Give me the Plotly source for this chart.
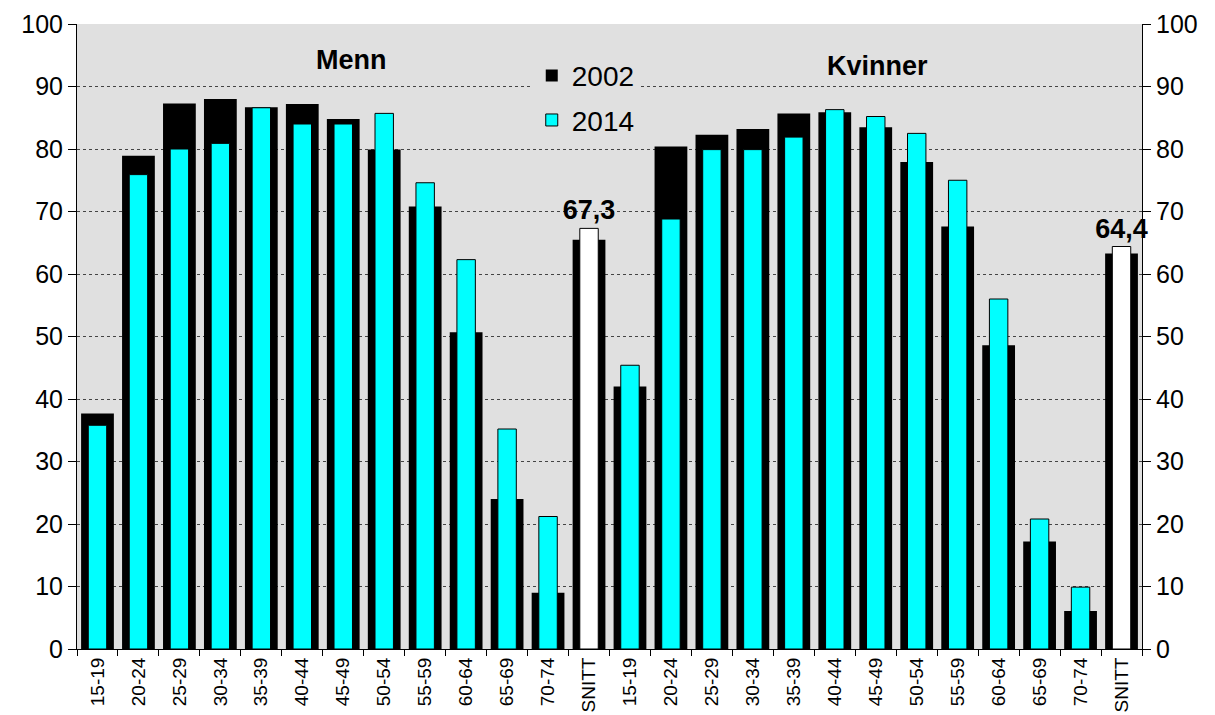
import plotly.graph_objects as go

# age groups, same for men and women
ages = ["15-19", "20-24", "25-29", "30-34", "35-39", "40-44", "45-49",
        "50-54", "55-59", "60-64", "65-69", "70-74", "SNITT"]

menn_2002 = [37.7, 78.9, 87.3, 88.0, 86.7, 87.2, 84.8, 79.9, 70.8, 50.7, 24.0, 9.0, 65.5]
menn_2014 = [35.8, 75.9, 80.0, 80.9, 86.6, 84.0, 84.0, 85.7, 74.6, 62.3, 35.2, 21.2, 67.3]
kvinner_2002 = [42.0, 80.4, 82.3, 83.2, 85.7, 85.9, 83.5, 77.9, 67.6, 48.6, 17.2, 6.1, 63.3]
kvinner_2014 = [45.4, 68.8, 79.9, 79.9, 81.9, 86.3, 85.2, 82.5, 75.0, 56.0, 20.8, 9.9, 64.4]

labels = ages + ages
y2002 = menn_2002 + kvinner_2002
y2014 = menn_2014 + kvinner_2014
xs = list(range(len(labels)))

FONT = "Arial, Liberation Sans, sans-serif"
BG = "#E0E0E0"
CYAN = "#00FFFF"

colors14 = ["white" if l == "SNITT" else CYAN for l in labels]
text14 = [f"{v:.1f}".replace(".", ",") if l == "SNITT" else "" for l, v in zip(labels, y2014)]

fig = go.Figure()

fig.add_trace(go.Bar(x=xs, y=y2002, name="2002", width=0.8,
                     marker=dict(color="black", line=dict(color="black", width=0)),
                     legendgroup="a"))
fig.add_trace(go.Bar(x=xs, y=y2014, name="2014", width=0.45,
                     marker=dict(color=colors14, line=dict(color="black", width=1)),
                     text=text14, textposition="outside", cliponaxis=False,
                     constraintext="none",
                     textfont=dict(family=FONT, size=27, color="black", weight="bold"),
                     legendgroup="b"))
# dummy trace so the right axis is drawn
fig.add_trace(go.Scatter(x=[0], y=[0], yaxis="y2", mode="markers",
                         marker=dict(opacity=0), showlegend=False, hoverinfo="skip"))

fig.add_annotation(text="<b>Menn</b>", x=0.258, y=0.942, xref="paper", yref="paper",
                   xanchor="center", yanchor="middle", showarrow=False,
                   font=dict(family=FONT, size=27, color="black"))
fig.add_annotation(text="<b>Kvinner</b>", x=0.752, y=0.933, xref="paper", yref="paper",
                   xanchor="center", yanchor="middle", showarrow=False,
                   font=dict(family=FONT, size=27, color="black"))

yax = dict(range=[0, 100], dtick=10, showgrid=True, gridcolor="#444444", griddash="dot",
           gridwidth=1, showline=True, linecolor="black", linewidth=1, ticks="outside",
           ticklen=8, tickcolor="black", zeroline=False, automargin=False,
           tickfont=dict(family=FONT, size=25, color="black"))

fig.update_layout(
    width=1215, height=715,
    margin=dict(l=69, r=81, t=16, b=74),
    paper_bgcolor="white", plot_bgcolor=BG,
    barmode="overlay",
    font=dict(family=FONT, color="black"),
    xaxis=dict(range=[-0.5, len(labels) - 0.5], tickmode="array", tickvals=xs,
               ticktext=labels, tickangle=-90, ticks="", showline=True,
               linecolor="black", linewidth=1, showgrid=False, zeroline=False,
               automargin=False,
               tickfont=dict(family=FONT, size=19, color="black"),
               minor=dict(tickmode="array", tickvals=[i - 0.5 for i in range(len(labels) + 1)],
                          ticks="outside", ticklen=6, tickcolor="black", showgrid=False)),
    yaxis=yax,
    yaxis2=dict(yax, overlaying="y", side="right"),
    legend=dict(x=0.427, y=0.957, xanchor="left", yanchor="top", bgcolor=BG,
                font=dict(family=FONT, size=28, color="black"),
                tracegroupgap=5, traceorder="grouped"),
    showlegend=True,
)

fig.write_html("out.html")
